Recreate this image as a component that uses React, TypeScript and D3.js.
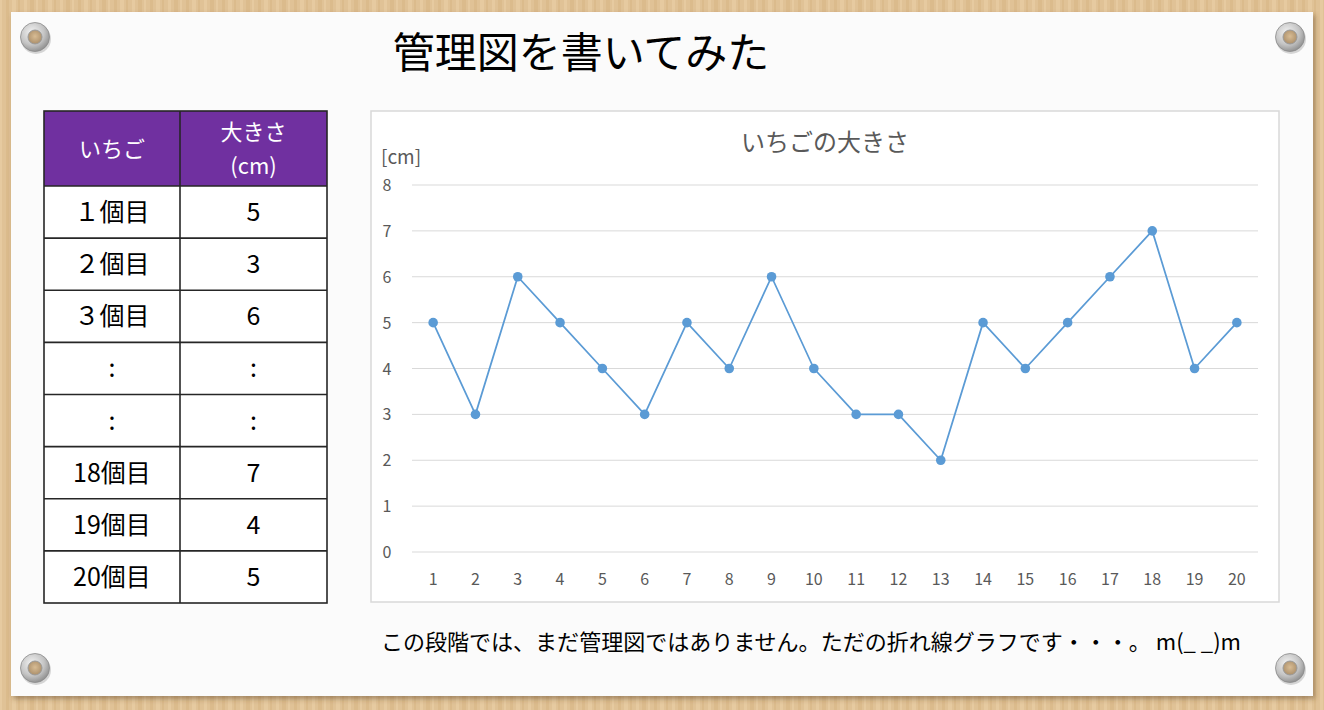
import React from "react";
import * as d3 from "d3";

const pageTitle = "管理図を書いてみた";
const chartTitle = "いちごの大きさ";
const yUnit = "[cm]";
const footnote = "この段階では、まだ管理図ではありません。ただの折れ線グラフです・・・。 m(_ _)m";

const categories = Array.from({ length: 20 }, (_, i) => String(i + 1));
const sizes = [5, 3, 6, 5, 4, 3, 5, 4, 6, 4, 3, 3, 2, 5, 4, 5, 6, 7, 4, 5];
const yTicks = [0, 1, 2, 3, 4, 5, 6, 7, 8];

const tableHeader = ["いちご", ["大きさ", "(cm)"]];
const tableLabels = ["１個目", "２個目", "３個目", ":", ":", "18個目", "19個目", "20個目"];
const tableValues = ["5", "3", "6", ":", ":", "7", "4", "5"];

const JP = "'Noto Sans CJK JP', 'Noto Sans', sans-serif";

export default function App() {
  const W = 1324, H = 710;
  const plot = { left: 412, right: 1258, top: 185, bottom: 552 };
  const x = d3.scalePoint<string>().domain(categories).range([plot.left, plot.right]).padding(0.5);
  const y = d3.scaleLinear().domain([0, 8]).range([plot.bottom, plot.top]);
  const line = d3.line<number>().x((_, i) => x(categories[i])!).y((d) => y(d));

  const tX0 = 44, tX1 = 180, tX2 = 327;
  const headTop = 111, headBot = 186;
  const rowH = (603 - 186) / tableLabels.length;

  const screws = [
    [35, 37], [1290, 37], [35, 668], [1290, 668],
  ];

  const stripes = d3.range(0, W, 6);

  return (
    <svg width={W} height={H} style={{ position: "absolute", left: 0, top: 0, display: "block" }}>
      <defs>
        <radialGradient id="screwG" cx="40%" cy="35%" r="70%">
          <stop offset="0%" stopColor="#f4f4f4" />
          <stop offset="60%" stopColor="#c4c4c4" />
          <stop offset="100%" stopColor="#8a8a8a" />
        </radialGradient>
        <radialGradient id="holeG" cx="50%" cy="45%" r="60%">
          <stop offset="0%" stopColor="#d8bc94" />
          <stop offset="100%" stopColor="#a88c68" />
        </radialGradient>
        <filter id="shadow" x="-5%" y="-5%" width="110%" height="110%">
          <feDropShadow dx="2" dy="3" stdDeviation="2.5" floodColor="#5a4020" floodOpacity="0.45" />
        </filter>
      </defs>
      <rect x={0} y={0} width={W} height={H} fill="#e0c296" />
      {stripes.map((s, i) => (
        <rect key={i} x={s} y={0} width={2 + (i % 3)} height={H}
          fill={i % 2 ? "#d6b381" : "#ebd1aa"} opacity={0.5} />
      ))}
      <rect x={11} y={12} width={1302} height={684} fill="#fbfbfb" filter="url(#shadow)" />

      {screws.map(([cx, cy], i) => (
        <g key={i}>
          <circle cx={cx + 1} cy={cy + 2} r={15} fill="#000" opacity={0.15} />
          <circle cx={cx} cy={cy} r={14.5} fill="url(#screwG)" stroke="#8c8c8c" strokeWidth={0.8} />
          <circle cx={cx} cy={cy} r={7} fill="url(#holeG)" stroke="#9a9a9a" strokeWidth={1} />
        </g>
      ))}

      <text x={581} y={68} textAnchor="middle" fontFamily={JP} fontSize={42} fill="#000">{pageTitle}</text>

      <rect x={tX0} y={headTop} width={tX2 - tX0} height={headBot - headTop} fill="#7030a0" />
      <rect x={tX0} y={headBot} width={tX2 - tX0} height={603 - headBot} fill="#ffffff" />
      <text x={(tX0 + tX1) / 2} y={(headTop + headBot) / 2 + 8} textAnchor="middle" fontFamily={JP} fontSize={22} fill="#fff">{tableHeader[0] as string}</text>
      <text x={(tX1 + tX2) / 2} y={140} textAnchor="middle" fontFamily={JP} fontSize={22} fill="#fff">{(tableHeader[1] as string[])[0]}</text>
      <text x={(tX1 + tX2) / 2} y={174} textAnchor="middle" fontFamily={JP} fontSize={22} fill="#fff">{(tableHeader[1] as string[])[1]}</text>
      {tableLabels.map((lab, i) => {
        const cy = headBot + rowH * (i + 0.5);
        return (
          <g key={i}>
            <text x={(tX0 + tX1) / 2} y={cy + 9} textAnchor="middle" fontFamily={JP} fontSize={25} fill="#000">{lab}</text>
            <text x={(tX1 + tX2) / 2} y={cy + 9} textAnchor="middle" fontFamily={JP} fontSize={25} fill="#000">{tableValues[i]}</text>
          </g>
        );
      })}
      <g stroke="#262626" strokeWidth={1.6} fill="none">
        <rect x={tX0} y={headTop} width={tX2 - tX0} height={603 - headTop} />
        <line x1={tX1} x2={tX1} y1={headTop} y2={603} />
        <line x1={tX0} x2={tX2} y1={headBot} y2={headBot} />
        {tableLabels.slice(1).map((_, i) => (
          <line key={i} x1={tX0} x2={tX2} y1={headBot + rowH * (i + 1)} y2={headBot + rowH * (i + 1)} />
        ))}
      </g>

      <rect x={371} y={111} width={908} height={491} fill="#ffffff" stroke="#d9d9d9" strokeWidth={1.5} />
      <text x={825} y={151} textAnchor="middle" fontFamily={JP} fontSize={24} fill="#595959">{chartTitle}</text>
      <text x={381} y={164} fontFamily={JP} fontSize={19} fill="#595959">{yUnit}</text>

      {yTicks.map((t) => (
        <g key={t}>
          <line x1={plot.left} x2={plot.right} y1={y(t)} y2={y(t)} stroke="#d9d9d9" strokeWidth={1} />
          <text x={387} y={y(t) + 6} textAnchor="middle" fontFamily={JP} fontSize={16} fill="#595959">{t}</text>
        </g>
      ))}
      {categories.map((c) => (
        <text key={c} x={x(c)!} y={585} textAnchor="middle" fontFamily={JP} fontSize={16} fill="#595959">{c}</text>
      ))}

      <path d={line(sizes) || ""} fill="none" stroke="#5b9bd5" strokeWidth={1.75} strokeLinejoin="round" />
      {sizes.map((v, i) => (
        <circle key={i} cx={x(categories[i])!} cy={y(v)} r={4.8} fill="#5b9bd5" />
      ))}

      <text x={381} y={650} fontFamily={JP} fontSize={22} fill="#000" textLength={860} lengthAdjust="spacingAndGlyphs">{footnote}</text>
    </svg>
  );
}
